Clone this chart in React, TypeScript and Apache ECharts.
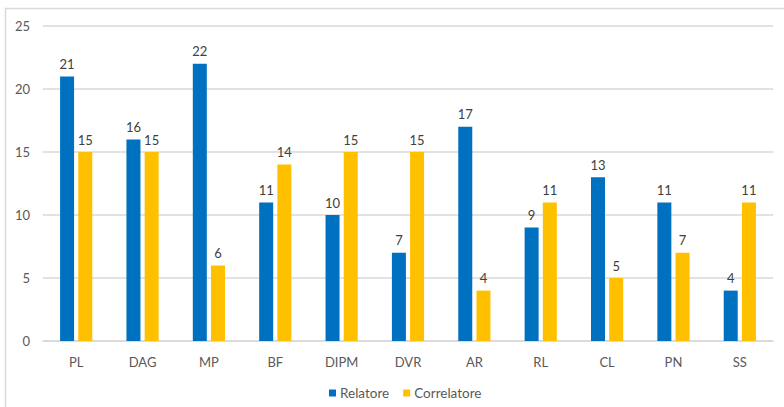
import React, { useEffect, useRef } from "react";
import * as echarts from "echarts";

const categories = ["PL", "DAG", "MP", "BF", "DIPM", "DVR", "AR", "RL", "CL", "PN", "SS"];
const relatore = [21, 16, 22, 11, 10, 7, 17, 9, 13, 11, 4];
const correlatore = [15, 15, 6, 14, 15, 15, 4, 11, 5, 7, 11];
const seriesNames = ["Relatore", "Correlatore"];

const FONT = "Lato, 'Open Sans', sans-serif";
const TEXT = "#595959";

export default function App() {
  const ref = useRef<HTMLDivElement>(null);

  useEffect(() => {
    if (!ref.current) return;
    const chart = echarts.init(ref.current, null, { renderer: "svg" });
    const label = {
      show: true,
      position: "top" as const,
      distance: 6,
      color: "#404040",
      fontSize: 13,
      fontFamily: FONT,
    };
    chart.setOption({
      animation: false,
      backgroundColor: "#ffffff",
      grid: { left: 43, right: 11, top: 26, bottom: 66, containLabel: false },
      graphic: [
        {
          type: "polyline",
          shape: { points: [[5.5, 420], [5.5, 8.5], [790, 8.5]] },
          style: { stroke: "#d9d9d9", lineWidth: 1.5, fill: null },
          silent: true,
        },
      ],
      legend: {
        data: seriesNames,
        bottom: 2,
        left: 324,
        itemWidth: 7,
        itemHeight: 7,
        itemGap: 14,
        icon: "rect",
        textStyle: { color: TEXT, fontSize: 13.5, fontFamily: FONT, padding: [0, 0, 0, -1] },
      },
      xAxis: {
        type: "category",
        data: categories,
        axisLine: { lineStyle: { color: "#d9d9d9", width: 1.5 } },
        axisTick: { show: false },
        axisLabel: { color: TEXT, fontSize: 13, fontFamily: FONT, margin: 14 },
      },
      yAxis: {
        type: "value",
        min: 0,
        max: 25,
        interval: 5,
        axisLine: { show: false },
        axisTick: { show: false },
        splitLine: { lineStyle: { color: "#d9d9d9", width: 1.5 } },
        axisLabel: { color: TEXT, fontSize: 13, fontFamily: FONT, margin: 13 },
      },
      series: [
        {
          name: seriesNames[0],
          type: "bar",
          data: relatore,
          barWidth: 14,
          barGap: "30%",
          itemStyle: { color: "#0070C0" },
          label,
        },
        {
          name: seriesNames[1],
          type: "bar",
          data: correlatore,
          barWidth: 14,
          barGap: "30%",
          itemStyle: { color: "#FFC000" },
          label,
        },
      ],
    });
    return () => chart.dispose();
  }, []);

  return (
    <div
      ref={ref}
      style={{ position: "fixed", left: 0, top: 0, width: 784, height: 407 }}
    />
  );
}
